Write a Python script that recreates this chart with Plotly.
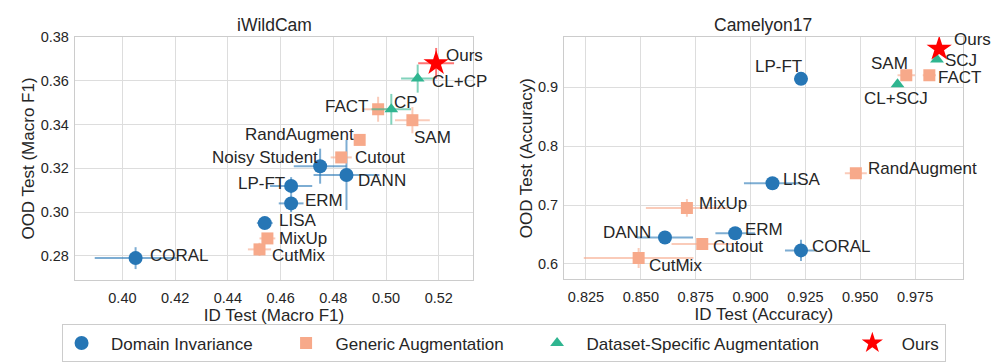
import plotly.graph_objects as go

FONT = "Liberation Sans, Arial, sans-serif"
TEXT_COLOR = "#262626"
GRID_COLOR = "#dddddd"
EDGE_COLOR = "#cccccc"

GROUPS = ["Domain Invariance", "Generic Augmentation",
          "Dataset-Specific Augmentation", "Ours"]
COLORS = {"Domain Invariance": "#2676b5", "Generic Augmentation": "#f7a98a",
          "Dataset-Specific Augmentation": "#2fb590", "Ours": "#ff0000"}
ERR_COLORS = {"Domain Invariance": "rgba(38,118,181,0.6)",
              "Generic Augmentation": "rgba(247,169,138,0.6)",
              "Dataset-Specific Augmentation": "rgba(47,181,144,0.6)",
              "Ours": "rgba(255,0,0,0.55)"}
SYMBOLS = {"Domain Invariance": "circle", "Generic Augmentation": "square",
           "Dataset-Specific Augmentation": "triangle-up", "Ours": "star"}
SIZES = {"Domain Invariance": 14, "Generic Augmentation": 12,
         "Dataset-Specific Augmentation": 12, "Ours": 19}

# iWildCam (Macro F1)
wild_methods = ["ERM", "CORAL", "DANN", "LISA", "LP-FT", "Noisy Student",
                "MixUp", "CutMix", "Cutout", "RandAugment", "SAM", "FACT",
                "CP", "CL+CP", "Ours"]
wild_groups = ["Domain Invariance"] * 6 + ["Generic Augmentation"] * 6 + \
              ["Dataset-Specific Augmentation"] * 2 + ["Ours"]
wild_id = [0.464, 0.405, 0.485, 0.454, 0.464, 0.475,
           0.455, 0.452, 0.483, 0.490, 0.510, 0.497,
           0.502, 0.512, 0.519]
wild_ood = [0.304, 0.279, 0.317, 0.295, 0.312, 0.321,
            0.288, 0.283, 0.325, 0.333, 0.342, 0.347,
            0.347, 0.361, 0.368]
wild_id_err = [0.0047, 0.0155, 0.0125, 0.003, 0.008, 0.010,
               0.003, 0.0044, 0.004, 0.001, 0.0066, 0.006,
               0.0075, 0.0063, 0.0068]
wild_ood_err = [0.004, 0.005, 0.016, 0.002, 0.004, 0.008,
                0.002, 0.003, 0.002, 0.002, 0.006, 0.0057,
                0.007, 0.0064, 0.007]

# Camelyon17 (Accuracy)
cam_methods = ["ERM", "CORAL", "DANN", "LISA", "LP-FT",
               "MixUp", "CutMix", "Cutout", "RandAugment", "SAM", "FACT",
               "SCJ", "CL+SCJ", "Ours"]
cam_groups = ["Domain Invariance"] * 5 + ["Generic Augmentation"] * 6 + \
             ["Dataset-Specific Augmentation"] * 2 + ["Ours"]
cam_id = [0.893, 0.923, 0.861, 0.910, 0.923,
          0.871, 0.849, 0.878, 0.948, 0.971, 0.9815,
          0.985, 0.967, 0.986]
cam_ood = [0.652, 0.623, 0.645, 0.737, 0.914,
           0.695, 0.610, 0.634, 0.754, 0.920, 0.920,
           0.947, 0.905, 0.965]
cam_id_err = [0.009, 0.0073, 0.0128, 0.013, 0.001,
              0.0187, 0.025, 0.014, 0.005, 0.004, 0.003,
              0.001, 0.001, 0.001]
cam_ood_err = [0.005, 0.018, 0.005, 0.003, 0.002,
               0.015, 0.017, 0.005, 0.005, 0.002, 0.004,
               0.002, 0.002, 0.002]

# label placement: (anchor, dx px, dy px downward)
WILD_LABELS = {
    "Ours": ("left", 8, -8), "CL+CP": ("left", 12, 3), "CP": ("left", 1, -7),
    "FACT": ("right", -8, -3), "SAM": ("left", 0, 17),
    "RandAugment": ("right", -4, -5), "Cutout": ("left", 12, 0),
    "Noisy Student": ("right", 0, -9), "DANN": ("left", 10, 6),
    "LP-FT": ("right", -4, -2), "ERM": ("left", 12, -3),
    "LISA": ("left", 12, -3), "MixUp": ("left", 10, 0),
    "CutMix": ("left", 11, 6), "CORAL": ("left", 12, -3),
}
CAM_LABELS = {
    "Ours": ("left", 13, -9), "SCJ": ("left", 6, 1), "FACT": ("left", 7, 2),
    "SAM": ("right", 4, -12), "CL+SCJ": ("center", -2, 14),
    "LP-FT": ("right", 3, -12), "RandAugment": ("left", 10, -5),
    "LISA": ("left", 9, -4), "MixUp": ("left", 10, -4),
    "ERM": ("left", 8, -4), "DANN": ("right", -12, -5),
    "Cutout": ("left", 9, 3), "CORAL": ("left", 9, -4),
    "CutMix": ("left", 8, 7),
}

NB = "\u00a0"

fig = go.Figure()


def legend_name(g):
    pad = NB * 6 if g != "Ours" else ""
    return NB * 2 + g + pad


def add_panel(methods, groups, xs, ys, xerr, yerr, labels, xaxis, yaxis, first):
    for g in GROUPS:
        idx = [i for i, gg in enumerate(groups) if gg == g]
        fig.add_trace(go.Scatter(
            x=[xs[i] for i in idx], y=[ys[i] for i in idx],
            error_x=dict(type="data", array=[xerr[i] for i in idx],
                         color=ERR_COLORS[g], thickness=2, width=0),
            error_y=dict(type="data", array=[yerr[i] for i in idx],
                         color=ERR_COLORS[g], thickness=2, width=0),
            mode="markers", name=legend_name(g), legendgroup=g,
            showlegend=first,
            marker=dict(symbol=SYMBOLS[g], color=COLORS[g], size=SIZES[g],
                        line=dict(width=0)),
            xaxis=xaxis, yaxis=yaxis, hovertext=[methods[i] for i in idx],
        ))
    for m, x, y in zip(methods, xs, ys):
        anchor, dx, dy = labels[m]
        fig.add_annotation(
            x=x, y=y, xref=xaxis, yref=yaxis, text=m,
            showarrow=False, xanchor=anchor, yanchor="middle",
            xshift=dx, yshift=-dy,
            font=dict(size=17, color=TEXT_COLOR, family=FONT),
        )


add_panel(wild_methods, wild_groups, wild_id, wild_ood, wild_id_err,
          wild_ood_err, WILD_LABELS, "x", "y", True)
add_panel(cam_methods, cam_groups, cam_id, cam_ood, cam_id_err,
          cam_ood_err, CAM_LABELS, "x2", "y2", False)

AXIS = dict(showgrid=True, gridcolor=GRID_COLOR, gridwidth=1, zeroline=False,
            showline=True, linecolor=EDGE_COLOR, linewidth=1.3, mirror=True,
            ticks="", ticklen=0, tickfont=dict(size=14.5, color=TEXT_COLOR),
            title_font=dict(size=17, color=TEXT_COLOR), automargin=False)

# the page adds an 8px body margin, so the paper is laid out 8px up/left
fig.update_layout(
    width=1007, height=364,
    margin=dict(l=0, r=0, t=0, b=0),
    plot_bgcolor="white", paper_bgcolor="white",
    font=dict(family=FONT, color=TEXT_COLOR),
    xaxis=dict(AXIS, domain=[0.0665, 0.4618], range=[0.382, 0.533],
               dtick=0.02, tick0=0.40, tickformat=".2f",
               title=dict(text="ID Test (Macro F1)", standoff=3),
               ticklabelstandoff=4, anchor="y"),
    yaxis=dict(AXIS, domain=[0.2527, 0.9203], range=[0.269, 0.380],
               dtick=0.02, tick0=0.28, tickformat=".2f",
               title=dict(text="OOD Test (Macro F1)", standoff=1),
               ticklabelstandoff=2, anchor="x"),
    xaxis2=dict(AXIS, domain=[0.5524, 0.9487], range=[0.8151, 0.997],
                dtick=0.025, tick0=0.825, tickformat=".3f",
                title=dict(text="ID Test (Accuracy)", standoff=3),
                ticklabelstandoff=4, anchor="y2"),
    yaxis2=dict(AXIS, domain=[0.2547, 0.9203], range=[0.574, 0.985],
                dtick=0.1, tick0=0.6, tickformat=".1f",
                title=dict(text="OOD Test (Accuracy)", standoff=1),
                ticklabelstandoff=2, anchor="x2"),
    legend=dict(orientation="h", x=0.4921, xanchor="center", y=0.0783,
                yanchor="middle", bordercolor=EDGE_COLOR, borderwidth=1,
                font=dict(size=17, color=TEXT_COLOR), bgcolor="white"),
    showlegend=True,
)

for txt, xc in [("iWildCam", 0.2642), ("Camelyon17", 0.7498)]:
    fig.add_annotation(x=xc, y=0.9533, xref="paper", yref="paper", text=txt,
                       showarrow=False, xanchor="center", yanchor="middle",
                       font=dict(size=17.5, color=TEXT_COLOR, family=FONT))

fig.write_html("out.html")
